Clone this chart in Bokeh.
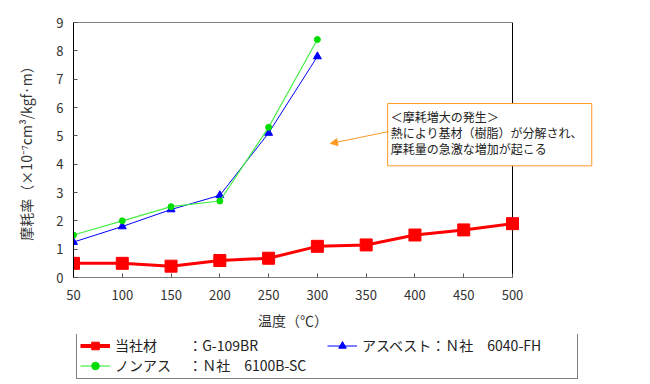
from bokeh.plotting import figure
from bokeh.models import (Legend, LegendItem, Label, Arrow, NormalHead, Range1d,
                          FixedTicker, LinearAxis)
from bokeh.layouts import column
from bokeh.embed import file_html
from bokeh.resources import INLINE

temps_ours = [50, 100, 150, 200, 250, 300, 350, 400, 450, 500]
wear_ours = [0.5, 0.5, 0.4, 0.6, 0.68, 1.1, 1.15, 1.5, 1.68, 1.9]
temps_asb = [50, 100, 150, 200, 250, 300]
wear_asb = [1.25, 1.8, 2.4, 2.9, 5.1, 7.8]
temps_non = [50, 100, 150, 200, 250, 300]
wear_non = [1.5, 2.0, 2.5, 2.7, 5.3, 8.4]

label_ours = "当社材　　 ：G-109BR"
label_asb = "アスベスト：Ｎ社　6040-FH"
label_non = "ノンアス　 ：Ｎ社　6100B-SC"
x_ticks = [50, 100, 150, 200, 250, 300, 350, 400, 450, 500]
y_ticks = [0, 1, 2, 3, 4, 5, 6, 7, 8, 9]
x_min, x_max = 50, 500
y_min, y_max = 0, 9
x_title = "温度（℃）"
y_title = "摩耗率（×10⁻⁷cm³/kgf·m）"
note_text = "＜摩耗増大の発生＞\n熱により基材（樹脂）が分解され、\n摩耗量の急激な増加が起こる"

FONT = "Noto Sans CJK JP"
RED, BLUE, GREEN, GREEN_M, ORANGE = "#ff0000", "#0000ff", "#44ee44", "#00dd00", "#ff9922"

# layout: plot box spans 73..512 px; the frame is extended to the right so the
# callout box (which sticks out of the plot box) is not clipped.
W = 650
H1, H2 = 334, 48
left_b, top_b, right_b, bottom_b = 73, 22, 10, 57
box_px = 512 - 73
frame_px = W - left_b - right_b
x_end = x_min + (x_max - x_min) * frame_px / box_px

p = figure(width=W, height=H1, output_backend="svg", toolbar_location=None,
           x_range=Range1d(x_min, x_end), y_range=Range1d(y_min, y_max),
           min_border_left=left_b, min_border_right=right_b, min_border_top=top_b,
           min_border_bottom=bottom_b)
p.background_fill_color = "white"
p.border_fill_color = "white"
p.outline_line_color = None
p.grid.visible = False

for ax in (p.xaxis, p.yaxis):
    ax.major_tick_in = 4
    ax.major_tick_out = 0
    ax.minor_tick_line_color = None
    ax.major_tick_line_color = "#555555"
    ax.major_label_text_font = FONT
    ax.major_label_text_font_size = "13px"
    ax.major_label_text_color = "#333333"
    ax.axis_label_text_font = FONT
    ax.axis_label_text_font_size = "14px"
    ax.axis_label_text_font_style = "normal"
    ax.axis_label_text_color = "#333333"

p.xaxis.axis_line_color = None
p.yaxis.axis_line_color = "black"
p.xaxis.ticker = FixedTicker(ticks=x_ticks)
p.yaxis.ticker = FixedTicker(ticks=y_ticks)
p.xaxis.major_label_standoff = 12
p.yaxis.major_label_standoff = 10
p.yaxis.axis_label = y_title
p.yaxis.axis_label_standoff = 17

# x-axis title centred under the plot box (not under the extended frame)
mid = (x_min + x_max) / 2
title_axis = LinearAxis(ticker=FixedTicker(ticks=[mid]),
                        major_label_overrides={mid: x_title})
title_axis.axis_line_color = None
title_axis.major_tick_line_color = None
title_axis.minor_tick_line_color = None
title_axis.major_tick_in = 0
title_axis.major_tick_out = 0
title_axis.major_label_standoff = 7
title_axis.major_label_text_font = FONT
title_axis.major_label_text_font_size = "14px"
title_axis.major_label_text_color = "#333333"
p.add_layout(title_axis, "below")

# plot box
p.quad(left=[x_min], right=[x_max], bottom=[y_min], top=[y_max],
       fill_color=None, line_color="black", line_width=1)

p.line(temps_ours, wear_ours, line_color=RED, line_width=3)
p.scatter(temps_ours, wear_ours, marker="square", size=12, fill_color=RED, line_color=RED)
p.line(temps_asb, wear_asb, line_color=BLUE, line_width=1)
p.scatter(temps_asb, wear_asb, marker="triangle", size=8, fill_color=BLUE, line_color=BLUE)
p.line(temps_non, wear_non, line_color=GREEN, line_width=1.2)
p.scatter(temps_non, wear_non, marker="circle", size=6, fill_color=GREEN_M, line_color=GREEN_M)

note = Label(x=372, y=6.14, text=note_text, text_align="left", text_baseline="top",
             text_font=FONT, text_font_size="12px", text_color="#222222",
             padding=(3, 9, 4, 9),
             border_line_color=ORANGE, border_line_width=1,
             background_fill_color="white", background_fill_alpha=1,
             text_line_height=0.95)
p.add_layout(note)

arrow = Arrow(x_start=373, y_start=5.15, x_end=313.4, y_end=4.73,
              line_color=ORANGE, line_width=1,
              end=NormalHead(size=7, fill_color=ORANGE, line_color=ORANGE))
p.add_layout(arrow)

# legend strip below the chart (series drawn out of view, used only as legend glyphs)
q = figure(width=W, height=H2, output_backend="svg", toolbar_location=None,
           x_axis_location=None, y_axis_location=None, min_border=0,
           x_range=Range1d(0, 1), y_range=Range1d(0, 1))
q.outline_line_color = None
q.grid.visible = False
q.background_fill_color = "white"
q.border_fill_color = "white"
l1 = q.line(temps_ours, wear_ours, line_color=RED, line_width=4)
m1 = q.scatter(temps_ours, wear_ours, marker="square", size=10, fill_color=RED, line_color=RED)
l2 = q.line(temps_asb, wear_asb, line_color=BLUE, line_width=1)
m2 = q.scatter(temps_asb, wear_asb, marker="triangle", size=7, fill_color=BLUE, line_color=BLUE)
l3 = q.line(temps_non, wear_non, line_color=GREEN, line_width=1.2)
m3 = q.scatter(temps_non, wear_non, marker="circle", size=6, fill_color=GREEN_M, line_color=GREEN_M)

legend = Legend(items=[
    LegendItem(label=label_ours, renderers=[l1, m1]),
    LegendItem(label=label_non, renderers=[l3, m3]),
    LegendItem(label=label_asb, renderers=[l2, m2]),
], ncols=2, location=(3, 3))
legend.label_text_font = FONT
legend.label_text_font_size = "14px"
legend.label_text_color = "#222222"
legend.glyph_width = 30
legend.glyph_height = 19
legend.label_height = 19
legend.label_width = 212
legend.spacing = 0
legend.padding = 3
legend.margin = 0
legend.label_standoff = 5
legend.border_line_color = "black"
legend.border_line_width = 1
legend.background_fill_color = "white"
legend.background_fill_alpha = 1
q.add_layout(legend, "center")

layout = column(p, q, spacing=0)
open("out.html", "w").write(file_html(layout, INLINE))
